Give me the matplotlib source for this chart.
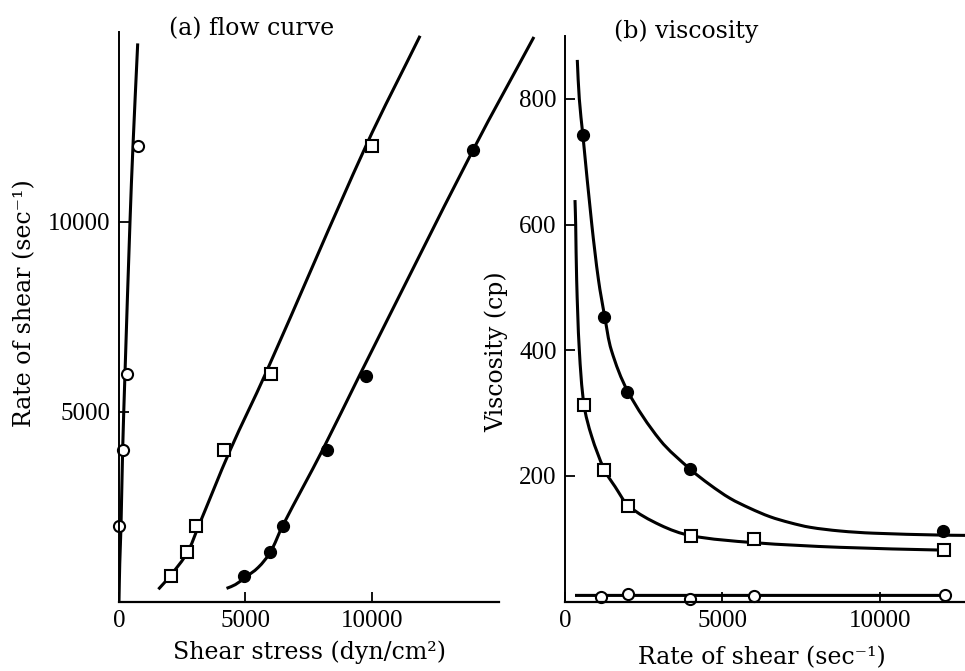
import numpy as np
import matplotlib.pyplot as plt
from matplotlib.path import Path
from matplotlib.patches import PathPatch

plt.rcParams['font.family'] = 'Liberation Serif'

# (a) flow curve: measured points (shear stress dyn/cm2, rate of shear 1/sec)
a_open_stress = [0, 160, 320, 750]
a_open_rate = [2000, 4000, 6000, 12000]
a_sq_stress = [2040, 2700, 3030, 4140, 6000, 10000]
a_sq_rate = [670, 1300, 2000, 4000, 6000, 12000]
a_fill_stress = [4950, 5980, 6470, 8230, 9750, 14000]
a_fill_rate = [670, 1300, 2000, 4000, 5950, 11900]

# (a) hand drawn curves
a_open_fit_x = [0, 30, 80, 145, 237, 435, 553, 740]
a_open_fit_y = [0, 1000, 2000, 4000, 6000, 10000, 12000, 14700]
a_sq_fit_x = [1557, 2043, 2700, 3126, 4400, 5790, 9760, 11900]
a_sq_fit_y = [327, 695, 1290, 1958, 4000, 6000, 12000, 14900]
a_fill_fit_x = [4250, 4600, 4950, 5500, 5980, 6470, 8050, 9500, 14000, 16400]
a_fill_fit_y = [350, 450, 620, 900, 1300, 2000, 4000, 5950, 11900, 14870]

# (b) viscosity: measured points (rate of shear 1/sec, viscosity cp)
b_fill_rate = [580, 1250, 1960, 3970, 12000]
b_fill_visc = [742, 453, 334, 211, 112]
b_sq_rate = [600, 1250, 1990, 4000, 6000, 12040]
b_sq_visc = [313, 210, 152, 105, 99, 83]
b_open_rate = [1130, 1990, 3970, 6000, 12060]
b_open_visc = [7, 12, 5, 9, 11]

# (b) hand drawn curves
b_fill_fit_x = [390, 454, 568, 851, 1063, 1263, 1473, 2000, 3020, 3970, 4603, 5238,
                5873, 6508, 7143, 7778, 8730, 9788, 11905, 12700]
b_fill_fit_y = [862, 800, 742, 600, 512, 453, 400, 334, 257, 211, 186, 164.5,
                148.6, 135.2, 125.7, 118.4, 112.5, 109, 106, 105.5]
b_sq_fit_x = [317, 339, 370, 455, 603, 847, 1249, 1590, 2030, 3020, 4000, 5978, 8730, 12040]
b_sq_fit_y = [639, 600, 512, 400, 313, 263, 210, 183, 152, 122, 105, 94, 86.5, 82]
b_open_fit_x = [317, 12060]
b_open_fit_y = [10, 10]

LW = 2.2
label_font = dict(family='DejaVu Serif', fontsize=17)


def smooth_curve(ax, xs, ys, clip=True):
    # smooth curve through the read points, built in screen space so the
    # unequal x/y scales do not bend it, then drawn as a Bezier path
    to_px = ax.transData
    p = to_px.transform(np.column_stack([xs, ys]).astype(float))
    n = len(p)
    tang = np.zeros_like(p)
    for i in range(n):
        a = p[max(i - 1, 0)]
        b = p[min(i + 1, n - 1)]
        d = b - a
        tang[i] = d / np.hypot(*d)
    verts = [p[0]]
    codes = [Path.MOVETO]
    for i in range(n - 1):
        seg = np.hypot(*(p[i + 1] - p[i])) / 3
        verts += [p[i] + tang[i] * seg, p[i + 1] - tang[i + 1] * seg, p[i + 1]]
        codes += [Path.CURVE4] * 3
    verts = to_px.inverted().transform(np.array(verts))
    patch = PathPatch(Path(verts, codes), fill=False, edgecolor='black',
                      lw=LW, capstyle='butt', clip_on=clip)
    ax.add_patch(patch)


def style_axes(ax):
    ax.spines['top'].set_visible(False)
    ax.spines['right'].set_visible(False)
    ax.spines['left'].set_linewidth(1.4)
    ax.spines['bottom'].set_linewidth(1.6)
    ax.tick_params(direction='in', length=7, width=1.3, labelsize=18, pad=6)


fig = plt.figure(figsize=(9.65, 6.71), dpi=100)

# (a) flow curve
ax_a = fig.add_axes([0.1233, 0.1033, 0.3933, 0.849])
ax_a.set_xlim(0, 15000)
ax_a.set_ylim(0, 15000)
smooth_curve(ax_a, a_open_fit_x, a_open_fit_y)
smooth_curve(ax_a, a_sq_fit_x, a_sq_fit_y)
smooth_curve(ax_a, a_fill_fit_x, a_fill_fit_y, clip=False)
ax_a.plot(a_open_stress, a_open_rate, 'o', ms=8, mfc='white', mec='black', mew=1.5, clip_on=False)
ax_a.plot(a_sq_stress, a_sq_rate, 's', ms=8.5, mfc='white', mec='black', mew=1.5, clip_on=False)
ax_a.plot(a_fill_stress, a_fill_rate, 'o', ms=8.5, mfc='black', mec='black', clip_on=False)
ax_a.set_xticks([0, 5000, 10000])
ax_a.set_yticks([5000, 10000])
style_axes(ax_a)

# (b) viscosity
ax_b = fig.add_axes([0.5855, 0.1033, 0.4145, 0.843])
ax_b.set_xlim(0, 12700)
ax_b.set_ylim(0, 900)
smooth_curve(ax_b, b_fill_fit_x, b_fill_fit_y)
smooth_curve(ax_b, b_sq_fit_x, b_sq_fit_y)
smooth_curve(ax_b, b_open_fit_x, b_open_fit_y)
ax_b.plot(b_open_rate, b_open_visc, 'o', ms=8, mfc='white', mec='black', mew=1.5, clip_on=False)
ax_b.plot(b_sq_rate, b_sq_visc, 's', ms=8.5, mfc='white', mec='black', mew=1.5, clip_on=False)
ax_b.plot(b_fill_rate, b_fill_visc, 'o', ms=8.5, mfc='black', mec='black', clip_on=False)
ax_b.set_xticks([0, 5000, 10000])
ax_b.set_yticks([200, 400, 600, 800])
style_axes(ax_b)

# titles and axis labels
fig.text(0.2611, 0.9570, '(a) flow curve', ha='center', va='center', **label_font)
fig.text(0.7109, 0.9540, '(b) viscosity', ha='center', va='center', **label_font)
fig.text(0.3212, 0.0283, 'Shear stress (dyn/cm²)', ha='center', va='center', **label_font)
fig.text(0.0259, 0.5484, 'Rate of shear (sec⁻¹)', ha='center', va='center', rotation=90, **label_font)
fig.text(0.7896, 0.0194, 'Rate of shear (sec⁻¹)', ha='center', va='center', **label_font)
fig.text(0.515, 0.4754, 'Viscosity (cp)', ha='center', va='center', rotation=90, **label_font)

fig.savefig('out.png', dpi=100)
